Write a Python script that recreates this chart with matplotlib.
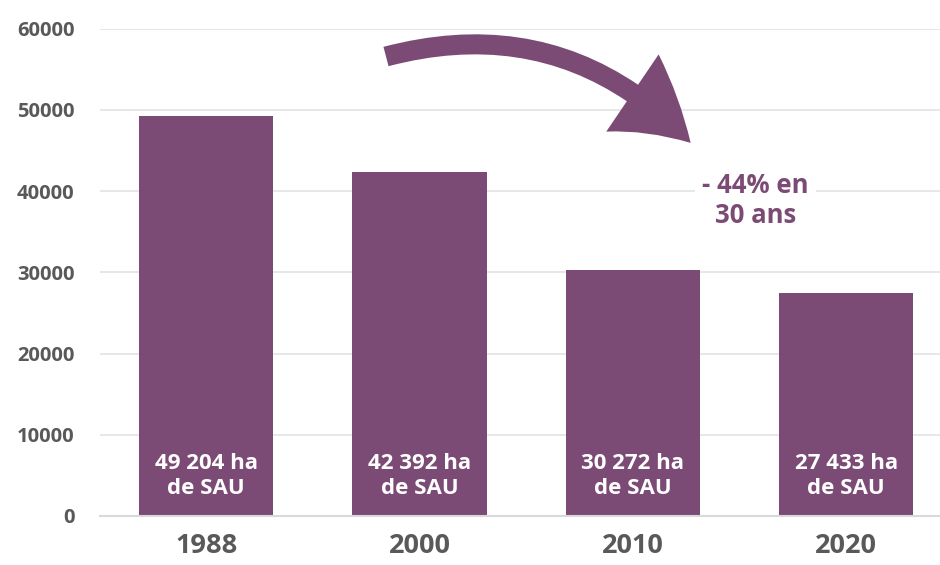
import matplotlib
matplotlib.use("Agg")
import matplotlib.pyplot as plt
from matplotlib.patches import FancyArrowPatch

years = ["1988", "2000", "2010", "2020"]
sau = [49204, 42392, 30272, 27433]
bar_labels = ["49 204 ha\nde SAU", "42 392 ha\nde SAU", "30 272 ha\nde SAU", "27 433 ha\nde SAU"]
y_ticks = [0, 10000, 20000, 30000, 40000, 50000, 60000]
note = "- 44% en\n30 ans"

purple = "#7b4b76"
grey = "#595959"

plt.rcParams['font.family'] = ['Open Sans', 'DejaVu Sans']

fig = plt.figure(figsize=(9.4, 5.65), dpi=100)
ax = fig.add_axes([0.106, 0.087, 0.894, 0.862])

x = list(range(len(years)))
ax.bar(x, sau, width=0.63, color=purple, zorder=2)

# labels inside the bars
for xi, lab in zip(x, bar_labels):
    ax.text(xi, 4900, lab, color="white", fontsize=16, fontweight="bold",
            ha="center", va="center", linespacing=1.2, zorder=3)

ax.set_xlim(-0.5, 3.44)
ax.set_ylim(0, 60000)
ax.set_yticks(y_ticks)
ax.set_yticklabels([str(t) for t in y_ticks], fontsize=14.5, fontweight="bold", color=grey)
ax.set_xticks(x)
ax.set_xticklabels(years, fontsize=19.5, fontweight="bold", color=grey)
ax.tick_params(axis="y", length=0, pad=18)
ax.tick_params(axis="x", length=0, pad=12)

ax.grid(axis="y", color="#e3e3e3", linewidth=1.2, zorder=0)
ax.set_axisbelow(True)
for s in ["top", "right", "left"]:
    ax.spines[s].set_visible(False)
ax.spines["bottom"].set_color("#d9d9d9")
ax.spines["bottom"].set_linewidth(1.5)

# curved arrow
arrow = FancyArrowPatch((0.83, 56500), (2.28, 45700),
                        connectionstyle="arc3,rad=-0.3",
                        arrowstyle="simple,head_width=5.6,head_length=4.6,tail_width=1.2",
                        mutation_scale=12, color=purple, lw=0, zorder=4)
ax.add_patch(arrow)

ax.text(2.575, 38900, note, color=purple, fontsize=18.5, fontweight="bold",
        ha="center", va="center", linespacing=1.15, zorder=4,
        bbox=dict(facecolor="white", edgecolor="none", pad=5))

fig.savefig("out.png", dpi=100)
